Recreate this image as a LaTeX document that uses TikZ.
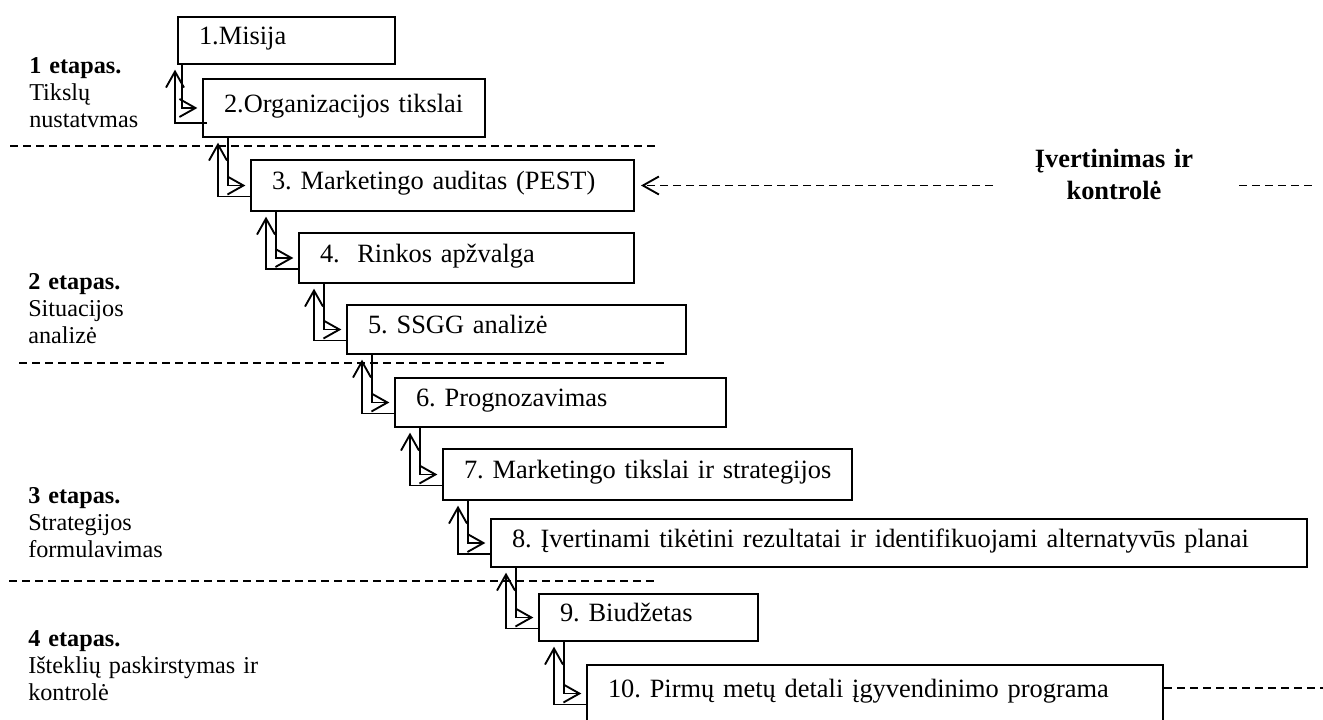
\documentclass[tikz,border=0pt]{standalone}
\usepackage{fontspec}
\setmainfont{Liberation Serif}
\usetikzlibrary{arrows.meta,calc}
\begin{document}
\begin{tikzpicture}[x=0.75pt,y=-0.75pt,
  box/.style={draw, line width=1.5pt, anchor=north west, inner xsep=15.75pt, inner ysep=0pt,
    align=left, text height=0.9em, text depth=0.25em,
    font=\fontsize{19.8pt}{23pt}\selectfont\frenchspacing},
  conn/.style={line width=1.4pt, -{Straight Barb[length=12pt,width=13.5pt]}, shorten >=3.5pt},
  sep/.style={line width=1.4pt, dash pattern=on 6pt off 3.75pt},
  dashconn/.style={sep, -{Straight Barb[length=12pt,width=13.5pt]}, shorten >=4.5pt},
  stage/.style={anchor=base west, inner sep=0pt, text width=180pt, align=left,
    font=\fontsize{18.15pt}{20.25pt}\selectfont\frenchspacing},
  evlabel/.style={anchor=base, inner sep=0pt, text width=140pt, align=center,
    font=\fontsize{19.8pt}{24pt}\selectfont\bfseries}
]
\useasboundingbox (0,0) rectangle (1323,720);

% boxes
\node[box, text width=131.25pt, minimum height=35.25pt] (b1) at (177,16) {\mbox{1.Misija}};
\node[box, text width=180pt, minimum height=43.5pt] (b2) at (202,78) {\mbox{2.Organizacijos tikslai}};
\node[box, text width=255.75pt, minimum height=38.25pt] (b3) at (250,159) {\mbox{3. Marketingo auditas (PEST)}};
\node[box, text width=219.75pt, minimum height=37.5pt] (b4) at (298,232) {\mbox{4.\ \ Rinkos apžvalga}};
\node[box, text width=222.75pt, minimum height=36.75pt] (b5) at (346,304) {\mbox{5. SSGG analizė}};
\node[box, text width=216.75pt, minimum height=36.75pt] (b6) at (394,377) {\mbox{6. Prognozavimas}};
\node[box, text width=275.25pt, minimum height=38.25pt] (b7) at (442,448) {\mbox{7. Marketingo tikslai ir strategijos}};
\node[box, text width=580.5pt, minimum height=36pt] (b8) at (490,518) {\mbox{8. Įvertinami tikėtini rezultatai ir identifikuojami alternatyvūs planai}};
\node[box, text width=132.75pt, minimum height=35.25pt] (b9) at (538,593) {\mbox{9. Biudžetas}};
\node[box, text width=400.5pt, minimum height=42.75pt] (b10) at (586,664) {\mbox{10. Pirmų metų detali įgyvendinimo programa}};

% stage labels
\node[stage] (s1) at (29,74) {\textbf{1 etapas.}\\Tikslų\\nustatvmas};
\node[stage] (s2) at (28,289) {\textbf{2 etapas.}\\Situacijos\\analizė};
\node[stage] (s3) at (28,503) {\textbf{3 etapas.}\\Strategijos\\formulavimas};
\node[stage] (s4) at (28,646) {\textbf{4 etapas.}\\Išteklių paskirstymas ir\\kontrolė};

% evaluation label
\node[evlabel] (ev) at (1114,168) {Įvertinimas ir\\kontrolė};

% separators
\coordinate (a1) at (10,146);  \coordinate (a2) at (658,146);
\coordinate (c1) at (19,363);  \coordinate (c2) at (665,363);
\coordinate (d1) at (9,581);   \coordinate (d2) at (658,581);
\draw[sep] (a1) -- (a2);
\draw[sep] (c1) -- (c2);
\draw[sep] (d1) -- (d2);

% evaluation connectors
\coordinate (e1) at (993,0);
\coordinate (e2) at (1239,0);
\coordinate (e3) at (1317,0);
\coordinate (re) at (1323,0);
\draw[dashconn] (e1 |- b3.east) -- (b3.east);
\draw[sep] (e2 |- b3.east) -- (e3 |- b3.east);
\coordinate (b10r) at ($(b10.north east)+(0,24)$);
\draw[sep] (b10r) -- (b10r -| re);

% step connectors
\draw[conn] ($(b1.south west)+(5,0)$) |- (b2.west);
\draw[conn] ($(b2.west)+(5,15)$) -| ($(b1.south west)+(-2,0)$);
\foreach \i/\j in {2/3,3/4,4/5,5/6,6/7,7/8,8/9,9/10}{
  \draw[conn] ($(b\i.south west)+(26,0)$) |- (b\j.west);
  \draw[conn] ($(b\j.west)+(0,11)$) -| ($(b\i.south west)+(16,0)$);
}
\end{tikzpicture}
\end{document}
